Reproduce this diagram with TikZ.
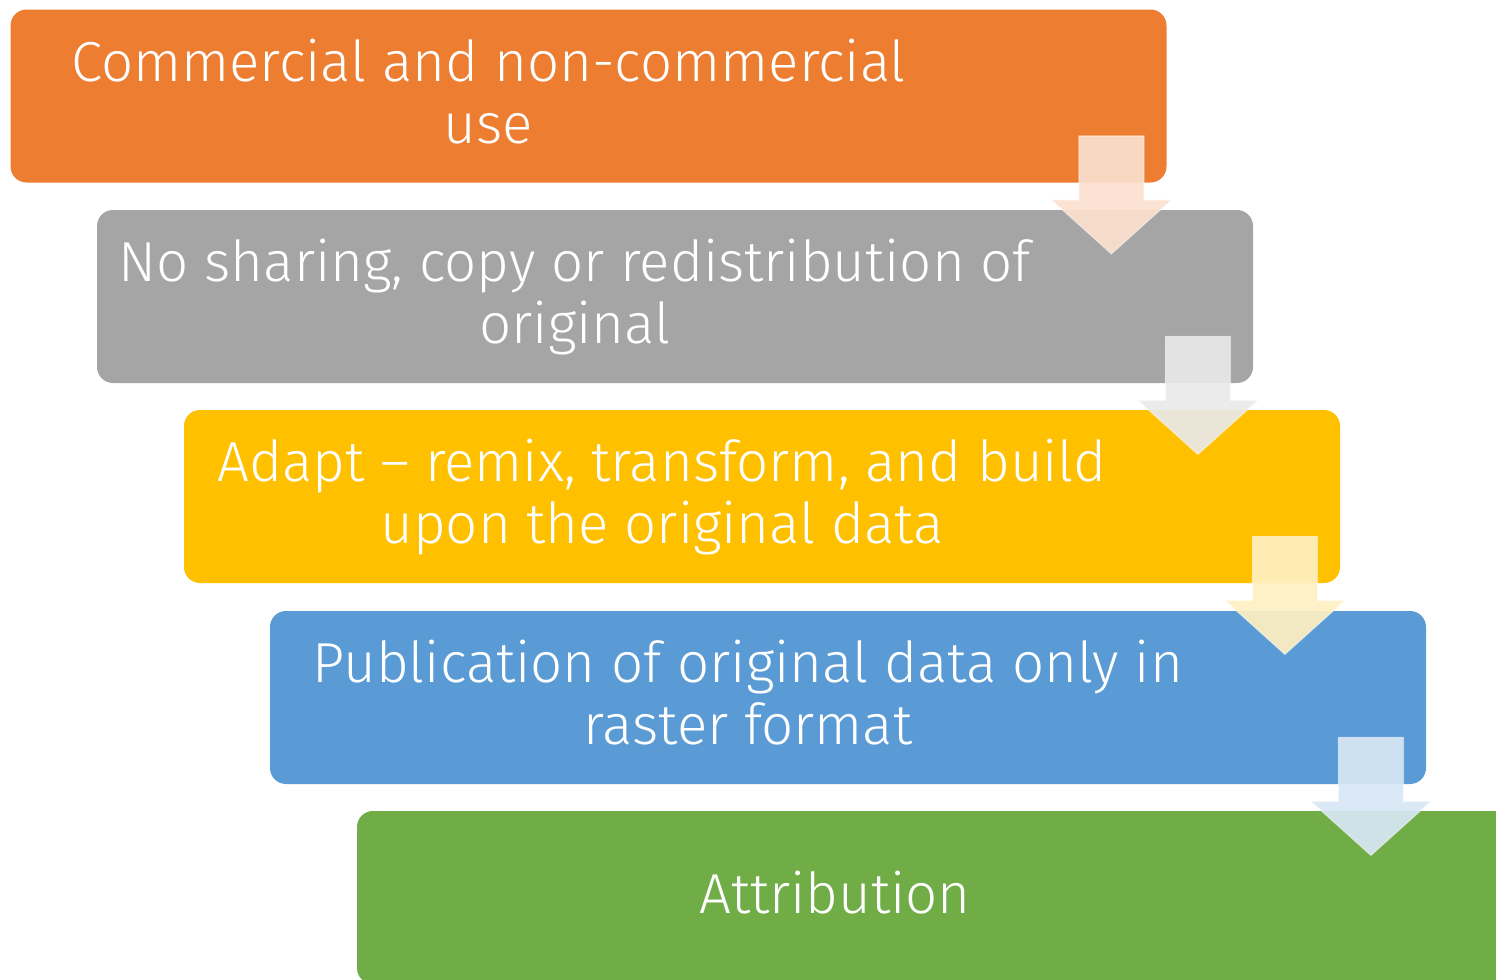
\documentclass[tikz,border=0pt]{standalone}
\usepackage{fontspec}
\setmainfont{Fira Sans Light}
\usetikzlibrary{calc}
\definecolor{OR}{HTML}{ED7D31}
\definecolor{GR}{HTML}{A5A5A5}
\definecolor{YE}{HTML}{FFC000}
\definecolor{BL}{HTML}{5B9BD5}
\definecolor{GN}{HTML}{70AD47}
\tikzset{
    RA1/.style ={rectangle, rounded corners=8pt, minimum width=578pt, minimum height=86.5pt, inner sep=0pt},
    TX/.style ={text=white, align=center, inner sep=0pt, text depth=0pt, font=\fontsize{28.2}{31}\selectfont, xshift=-50pt, yshift=2.5pt},
    AR/.style ={fill=#1!24!white, fill opacity=0.92, draw=white, draw opacity=0.45, line width=0.6pt}}

\newcommand{\steparrow}[2]{% box name, colour
    \draw[AR=#2] ($(#1.south east)+(-88,-47)$) -- ($(#1.south east)+(-23,-47)$)
        -- ($(#1.south east)+(-23,17)$) -- ($(#1.south east)+(4.5,17)$)
        -- ($(#1.south east)+(-55.5,71)$) -- ($(#1.south east)+(-115.5,17)$)
        -- ($(#1.south east)+(-88,17)$) -- cycle;}

\begin{document}
\begin{tikzpicture}[x=0.5pt,y=-0.5pt]
        \useasboundingbox (0,0) rectangle (1496,980);
        \clip (0,0) rectangle (1496,980);
        % boxes
        \node[RA1,fill=OR] (1) at(588.5,96){};
        \node[RA1,fill=GR] (2) at(675,296.5){};
        \node[RA1,fill=YE] (3) at(762,496.5){};
        \node[RA1,fill=BL] (4) at(848,697.5){};
        \node[RA1,fill=GN] (5) at(935,897.5){};
        % texts
        \node[TX] (t1) at(1.center){Commercial and non-commercial\\use};
        \node[TX] (t2) at(2.center){No sharing, copy or redistribution of\\original};
        \node[TX] (t3) at(3.center){Adapt -- remix, transform, and build\\upon the original data};
        \node[TX] (t4) at(4.center){Publication of original data only in\\raster format};
        \node[TX] (t5) at(5.center){Attribution};
        % arrows
        \steparrow{1}{OR}
        \steparrow{2}{GR}
        \steparrow{3}{YE}
        \steparrow{4}{BL}
    \end{tikzpicture}
\end{document}
